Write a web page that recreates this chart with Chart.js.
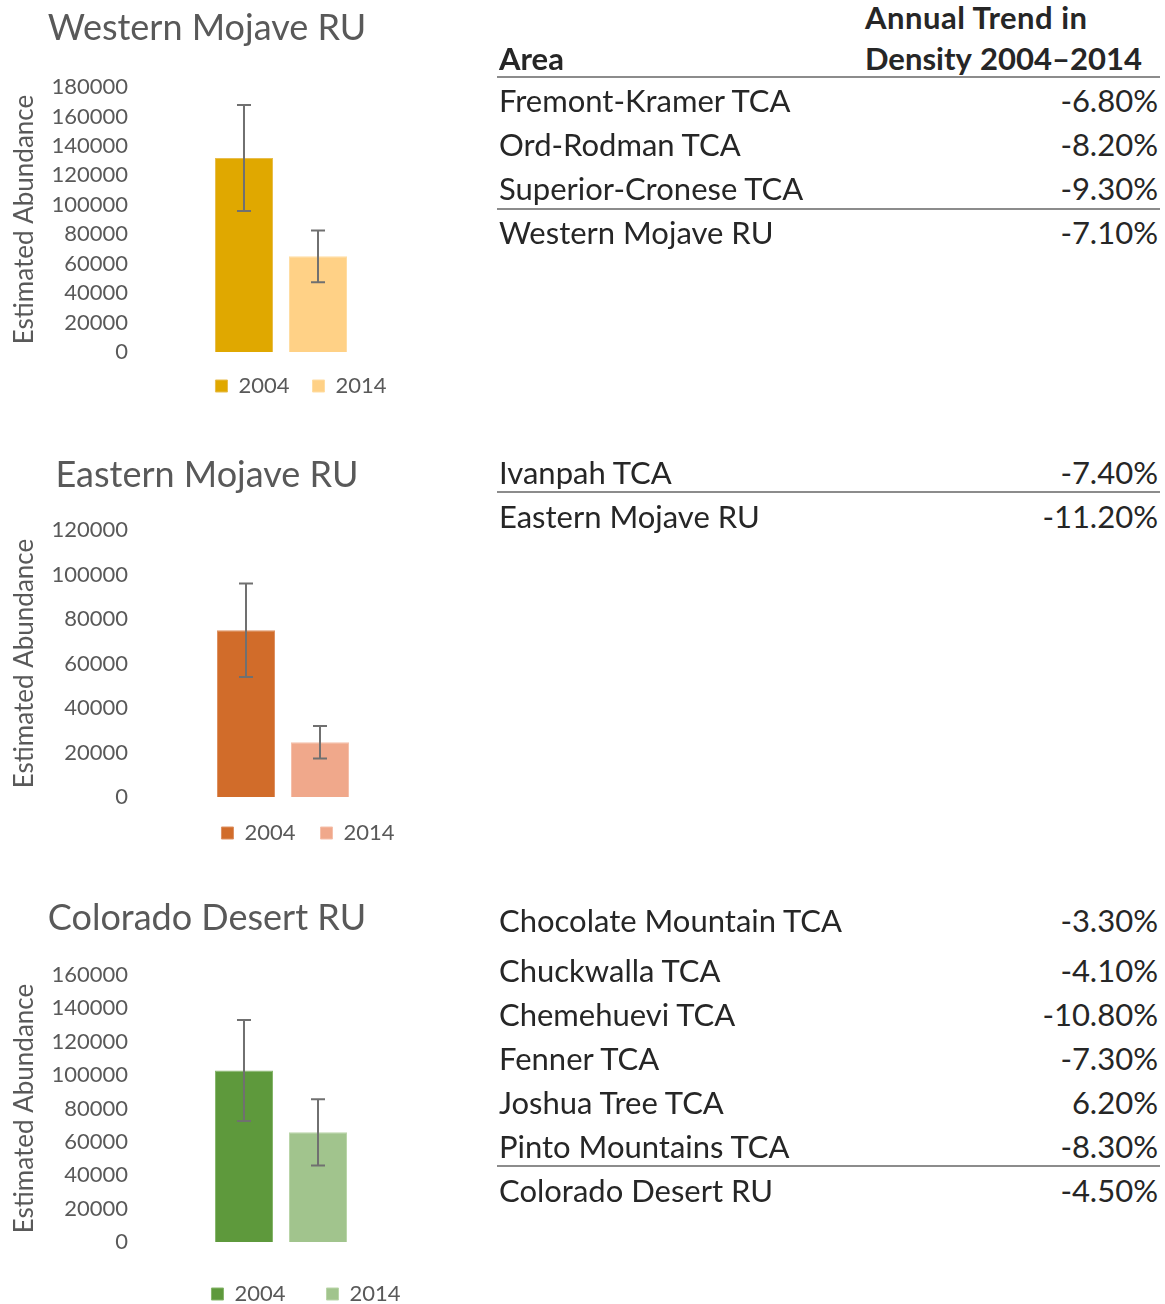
<!DOCTYPE html>
<html><head><meta charset="utf-8">
<script src="https://cdn.jsdelivr.net/npm/chart.js@4.4.1/dist/chart.umd.min.js"></script>
<style>
html,body{margin:0;padding:0;background:#fff;width:1165px;height:1304px;overflow:hidden;}
body{position:relative;font-family:Lato,"Open Sans",sans-serif;}
canvas{position:absolute;left:0;}
.ct{position:absolute;left:7px;width:400px;text-align:center;color:#595959;font-size:36px;line-height:44px;height:44px;white-space:nowrap;}
.t{position:absolute;white-space:nowrap;color:#262626;font-size:31px;line-height:34px;height:34px;}
.l{left:499px;}
.v{right:7px;text-align:right;}
.b{font-weight:bold;}
.rule{position:absolute;left:497px;width:663px;height:2px;background:#8c8c8c;}
</style></head><body>
<canvas id="c1" width="602" height="407" style="top:0px"></canvas>
<canvas id="c2" width="616" height="414" style="top:440px"></canvas>
<canvas id="c3" width="612" height="435" style="top:880px"></canvas>
<div id="texts"></div>
<script>
// ---------- data ----------
const years = ['2004', '2014'];
const westernTitle = 'Western Mojave RU';
const westernValues = [131700, 65000];
const westernErrors = [36000, 17600];
const westernMax = 180000;
const easternTitle = 'Eastern Mojave RU';
const easternValues = [74900, 24600];
const easternErrors = [21000, 7300];
const easternMax = 120000;
const coloradoTitle = 'Colorado Desert RU';
const coloradoValues = [102800, 65700];
const coloradoErrors = [30300, 19800];
const coloradoMax = 160000;
const tickStep = 20000;
const yAxisLabel = 'Estimated Abundance';

const westernAreas = ['Fremont-Kramer TCA', 'Ord-Rodman TCA', 'Superior-Cronese TCA', 'Western Mojave RU'];
const westernTrends = ['-6.80%', '-8.20%', '-9.30%', '-7.10%'];
const easternAreas = ['Ivanpah TCA', 'Eastern Mojave RU'];
const easternTrends = ['-7.40%', '-11.20%'];
const coloradoAreas = ['Chocolate Mountain TCA', 'Chuckwalla TCA', 'Chemehuevi TCA', 'Fenner TCA', 'Joshua Tree TCA', 'Pinto Mountains TCA', 'Colorado Desert RU'];
const coloradoTrends = ['-3.30%', '-4.10%', '-10.80%', '-7.30%', '6.20%', '-8.30%', '-4.50%'];
const headerArea = 'Area';
const headerTrend1 = 'Annual Trend in';
const headerTrend2 = 'Density\u00a0\u00a02004\u20132014';

// ---------- error bar plugin ----------
const errorBars = {
  id: 'errorBars',
  afterDatasetsDraw(chart) {
    const ctx = chart.ctx, ys = chart.scales.y;
    ctx.save();
    ctx.strokeStyle = '#707070';
    ctx.lineWidth = 2;
    chart.data.datasets.forEach((ds, di) => {
      const meta = chart.getDatasetMeta(di);
      meta.data.forEach((el, i) => {
        const v = ds.data[i], e = ds.errors[i];
        const yTop = ys.getPixelForValue(v + e), yBot = ys.getPixelForValue(v - e);
        const x = el.x, cap = 7;
        ctx.beginPath();
        ctx.moveTo(x, yTop); ctx.lineTo(x, yBot);
        ctx.moveTo(x - cap, yTop); ctx.lineTo(x + cap, yTop);
        ctx.moveTo(x - cap, yBot); ctx.lineTo(x + cap, yBot);
        ctx.stroke();
      });
    });
    ctx.restore();
  }
};

function makeChart(id, values, errors, maxV, colors, borders, cfg) {
  return new Chart(document.getElementById(id), {
    type: 'bar',
    data: {
      labels: [''],
      datasets: years.map((yr, i) => ({
        label: yr,
        data: [values[i]],
        errors: [errors[i]],
        backgroundColor: colors[i],
        borderColor: borders[i],
        borderWidth: 1,
        categoryPercentage: cfg.catPct,
        barPercentage: 0.784
      }))
    },
    options: {
      responsive: false,
      animation: false,
      devicePixelRatio: 1,
      layout: { padding: { top: cfg.top, left: 0, right: 0, bottom: 0 } },
      plugins: {
        title: { display: false },
        legend: {
          position: 'bottom',
          labels: {
            color: '#595959', font: { family: 'Lato', size: 22 },
            boxWidth: 12, boxHeight: 12, padding: cfg.legendPad
          }
        },
        tooltip: { enabled: false }
      },
      scales: {
        x: { display: false, offset: true },
        y: {
          min: 0, max: maxV,
          grid: { display: false, drawTicks: false },
          border: { display: false },
          ticks: {
            stepSize: tickStep, padding: 7, color: '#595959',
            font: { family: 'Lato', size: 22 },
            callback: v => String(v)
          },
          title: {
            display: true, text: yAxisLabel, color: '#595959',
            font: { family: 'Lato', size: 26 },
            padding: { top: 9, bottom: 0 }
          },
          afterFit(s) { s.width = 135; }
        },
        y2: {
          position: 'right', display: true,
          grid: { display: false, drawTicks: false },
          border: { display: false },
          ticks: { display: false },
          afterFit(s) { s.width = cfg.rightSpace; }
        }
      }
    },
    plugins: [errorBars]
  });
}

makeChart('c1', westernValues, westernErrors, westernMax,
  ['#E0A800', '#FFD186'], ['#E8BD4D', '#FFDDA3'],
  { catPct: 0.507, top: 87, legendPad: 23, rightSpace: 175 });
makeChart('c2', easternValues, easternErrors, easternMax,
  ['#D16C2A', '#F0A88B'], ['#DD9162', '#F5C0AB'],
  { catPct: 0.5, top: 90, legendPad: 25, rightSpace: 185 });
makeChart('c3', coloradoValues, coloradoErrors, coloradoMax,
  ['#5E993C', '#A1C48D'], ['#86B56B', '#BAD5A9'],
  { catPct: 0.507, top: 95, legendPad: 41, rightSpace: 185 });

// ---------- titles and table (text) ----------
const host = document.getElementById('texts');
function addDiv(txt, cls, top, extraStyle) {
  const d = document.createElement('div');
  d.className = cls;
  d.textContent = txt;
  d.style.top = top + 'px';
  if (extraStyle) d.style.cssText += ';' + extraStyle;
  host.appendChild(d);
}
[[westernTitle, 27], [easternTitle, 474], [coloradoTitle, 917]].forEach(([t, cy]) => addDiv(t, 'ct', cy - 23));

function addText(txt, cls, centerY, extraStyle) { addDiv(txt, 't ' + cls, centerY - 18, extraStyle); }
function addRule(y) {
  const d = document.createElement('div');
  d.className = 'rule';
  d.style.top = (y - 1) + 'px';
  host.appendChild(d);
}
addText(headerTrend1, 'b', 18, 'left:865px;letter-spacing:0.5px');
addText(headerTrend2, 'b', 59, 'left:865px;word-spacing:-3px');
addText(headerArea, 'l b', 59);
addRule(77);
const westernY = [101, 145, 189, 233];
westernAreas.forEach((a, i) => { addText(a, 'l', westernY[i]); addText(westernTrends[i], 'v', westernY[i]); });
addRule(209);
const easternY = [473, 517];
easternAreas.forEach((a, i) => { addText(a, 'l', easternY[i]); addText(easternTrends[i], 'v', easternY[i]); });
addRule(492);
const coloradoY = [921, 971, 1015, 1059, 1103, 1147, 1191];
coloradoAreas.forEach((a, i) => { addText(a, 'l', coloradoY[i]); addText(coloradoTrends[i], 'v', coloradoY[i]); });
addRule(1166);
</script>
</body></html>
